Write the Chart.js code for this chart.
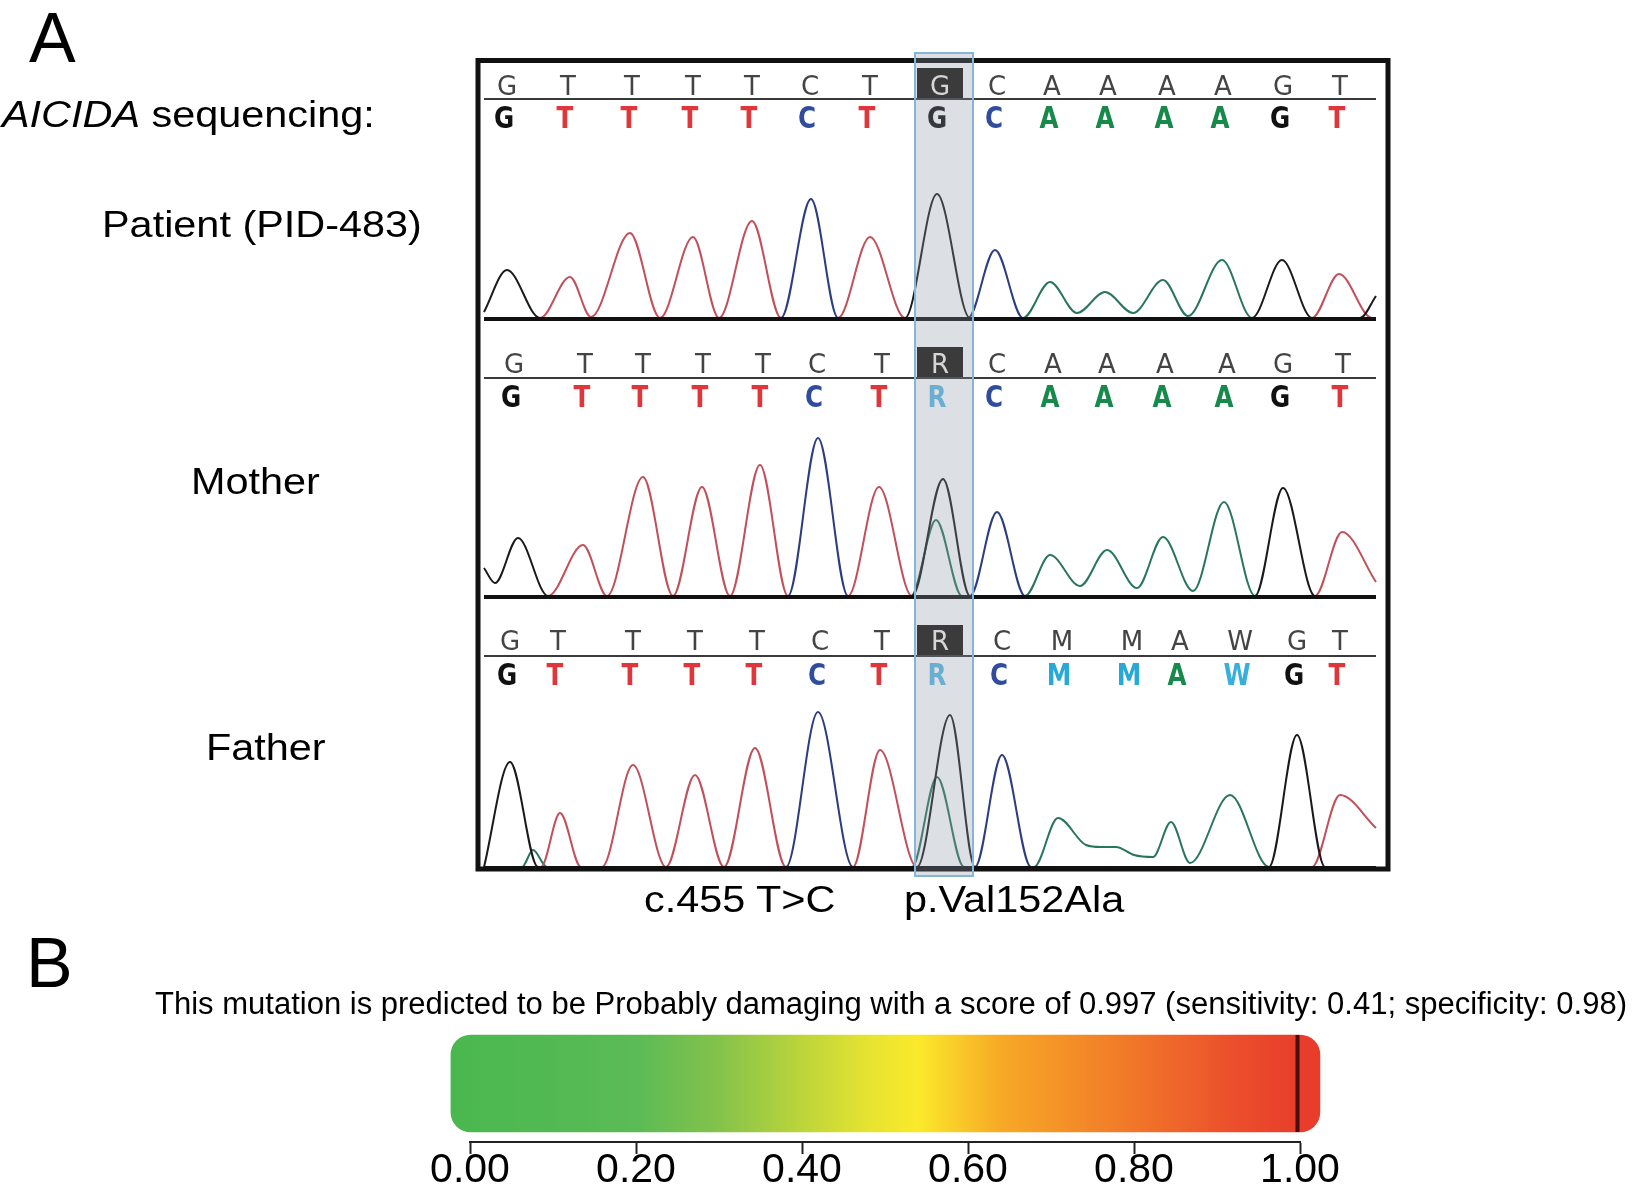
<!DOCTYPE html>
<html><head><meta charset="utf-8">
<script src="https://cdn.jsdelivr.net/npm/chart.js@4.4.1/dist/chart.umd.min.js"></script>
<style>
html,body{margin:0;padding:0;background:#fff;}
#page{position:relative;width:1632px;height:1195px;overflow:hidden;background:#fff;}
.lbl{position:absolute;white-space:nowrap;font-family:"Liberation Sans",Arial,Helvetica,sans-serif;line-height:1;color:#000;transform-origin:0 0;}
.sx{font-size:36px;transform:scaleX(1.15);}
canvas{position:absolute;left:0;}
</style></head>
<body><div id="page">
<canvas id="seq" width="1632" height="900" style="top:0px"></canvas>
<canvas id="pp" width="1632" height="195" style="top:1000px"></canvas>
<div class="lbl" style="left:29px;top:3px;font-size:70px">A</div>
<div class="lbl sx" style="left:2px;top:96.5px"><i>AICIDA</i> sequencing:</div>
<div class="lbl sx" style="left:102px;top:206.5px">Patient (PID-483)</div>
<div class="lbl sx" style="left:191px;top:463.5px">Mother</div>
<div class="lbl sx" style="left:206px;top:729.5px">Father</div>
<div class="lbl sx" style="left:644px;top:881.5px">c.455 T&gt;C</div>
<div class="lbl sx" style="left:904px;top:881.5px">p.Val152Ala</div>
<div class="lbl" style="left:26px;top:928px;font-size:70px">B</div>
<div class="lbl" id="ppText" style="left:155px;top:988px;font-size:31px">This mutation is predicted to be Probably damaging with a score of 0.997 (sensitivity: 0.41; specificity: 0.98)</div>
</div>
<script>
// ---------------- DATA (trace scan units on x, signal units on y) ----------------
const patientCalls = ['G','T','T','T','T','C','T','G','C','A','A','A','A','G','T'];
const patientCallPos = [23, 84, 148, 209, 268, 326, 386, 456, 513, 568, 624, 683, 739, 799, 856];
const motherCalls = ['G','T','T','T','T','C','T','R','C','A','A','A','A','G','T'];
const motherCallPos = [30, 101, 159, 219, 279, 333, 398, 456, 513, 569, 623, 681, 743, 799, 859];
const fatherCalls = ['G','T','T','T','T','C','T','R','C','M','M','A','W','G','T'];
const fatherCallPos = [26, 74, 149, 211, 273, 336, 398, 456, 518, 578, 648, 696, 756, 813, 856];

const patientG = [[0,6],[23,48],[56,0],[421,0],[453,124],[486,0],[768,0],[798,58],[828,0],[876,0],[892,22]];
const patientT = [[0,0],[56,0],[86,41],[107,1],[146,85],[176,0],[209,81],[235,0],[268,97],[297,0],[354,0],[386,81],[421,0],[828,0],[855,44],[888,0],[892,0]];
const patientC = [[0,0],[297,0],[327,119],[354,0],[484,0],[511,68],[539,0],[892,0]];
const patientA = [[0,0],[539,0],[566,36],[593,5],[621,26],[649,5],[679,38],[704,2],[738,58],[768,0],[892,0]];

const motherG = [[0,28],[11,13],[34,58],[64,0],[428,0],[459,117],[486,0],[771,0],[799,108],[831,0],[892,0]];
const motherT = [[0,0],[64,0],[99,51],[123,0],[159,119],[189,0],[218,109],[246,0],[276,131],[304,0],[364,0],[395,109],[428,0],[831,0],[858,64],[892,14]];
const motherC = [[0,0],[304,0],[334,158],[364,0],[486,0],[513,84],[541,0],[892,0]];
const motherA = [[0,0],[427,0],[452,76],[478,0],[541,0],[566,41],[596,10],[623,46],[653,8],[679,59],[709,5],[740,94],[771,0],[892,0]];

const fatherG = [[0,0],[26,105],[54,0],[433,0],[466,152],[491,0],[785,0],[813,132],[841,0],[892,0]];
const fatherT = [[0,0],[57,0],[76,54],[97,0],[118,0],[149,102],[182,0],[211,92],[240,0],[271,119],[302,0],[369,0],[396,117],[433,0],[828,0],[856,72],[892,39]];
const fatherC = [[0,0],[302,0],[334,155],[369,0],[491,0],[518,112],[547,0],[892,0]];
const fatherA = [[0,0],[38,0],[49,17],[63,0],[428,0],[453,90],[480,0],[550,0],[574,49],[602,22],[617,20],[632,20],[650,12],[669,10],[687,45],[706,4],[746,72],[785,0],[892,0]];

const mutationIndex = 7;
const mutationWindow = [431, 489];

const scoreTicks = [0, 0.2, 0.4, 0.6, 0.8, 1.0];
const barRange = [-0.023, 1.024];
const predictedScore = 0.997;

// ---------------- STYLE / LAYOUT ----------------
const traceColors = {G:'#1a1a1a', A:'#2a7560', T:'#c1505b', C:'#2c3d80'};
const callColors = {G:'#111111', T:'#e0353a', C:'#2f4c9e', A:'#16894b', R:'#5cb9e6', M:'#27a8d6', W:'#37b0e0'};
const area = {left:484, right:1380, top:62, bottom:867};
const H = area.bottom - area.top;
function yRange(basePx){ const min = -(area.bottom - basePx); return {min:min, max:min + H}; }

const tracks = [
  {axis:'yP', base:318, calls:patientCalls, pos:patientCallPos, traces:{G:patientG,T:patientT,C:patientC,A:patientA}, top:-223, sep:-219, bot:-190, box:[-250,-220]},
  {axis:'yM', base:596, calls:motherCalls, pos:motherCallPos, traces:{G:motherG,T:motherT,C:motherC,A:motherA}, top:-223, sep:-218, bot:-189, box:[-249,-219]},
  {axis:'yF', base:867, calls:fatherCalls, pos:fatherCallPos, traces:{G:fatherG,T:fatherT,C:fatherC,A:fatherA}, top:-217, sep:-211, bot:-182, box:[-242,-212]}
];

const datasets = [];
tracks.forEach(t => {
  ['G','C','T','A'].forEach(b => {
    datasets.push({
      label: t.axis + b,
      data: t.traces[b].map(p => ({x:p[0], y:p[1]})),
      yAxisID: t.axis,
      borderColor: traceColors[b],
      borderWidth: 2,
      pointRadius: 0,
      fill: false,
      cubicInterpolationMode: 'monotone',
      clip: false
    });
  });
});

const scalesA = { x: {type:'linear', min:0, max:896, display:false} };
tracks.forEach(t => { const r = yRange(t.base); scalesA[t.axis] = {type:'linear', min:r.min, max:r.max, display:false}; });

const seqPlugin = {
  id: 'seqDecor',
  beforeDatasetsDraw(chart){
    const {ctx, chartArea:ca, scales} = chart;
    const xs = scales.x;
    ctx.save();
    tracks.forEach(t => {
      const b = scales[t.axis].getPixelForValue(0);
      ctx.fillStyle = '#3a3a3a';
      ctx.fillRect(ca.left, b + t.sep - 1, ca.right - 4 - ca.left, 2);
      ctx.textAlign = 'center'; ctx.textBaseline = 'alphabetic';
      t.calls.forEach((c, i) => {
        const px = xs.getPixelForValue(t.pos[i]);
        if (i !== mutationIndex) {
          ctx.font = '26px "DejaVu Sans", sans-serif';
          ctx.fillStyle = '#444444';
          ctx.fillText(c, px, b + t.top);
        }
        ctx.save();
        ctx.translate(px - 3, b + t.bot);
        ctx.scale(0.82, 1);
        ctx.font = 'bold 30px "DejaVu Sans", sans-serif';
        ctx.fillStyle = callColors[c];
        ctx.fillText(c, 0, 0);
        ctx.restore();
      });
    });
    ctx.restore();
  },
  afterDatasetsDraw(chart){
    const {ctx, chartArea:ca, scales} = chart;
    const xs = scales.x;
    ctx.save();
    // frame and track baselines
    ctx.strokeStyle = '#111'; ctx.lineWidth = 5;
    ctx.strokeRect(ca.left - 6, ca.top - 1.5, (ca.right + 8) - (ca.left - 6), (ca.bottom + 2) - (ca.top - 1.5));
    tracks.forEach(t => {
      const b = scales[t.axis].getPixelForValue(0);
      ctx.fillStyle = '#111';
      ctx.fillRect(ca.left, b - 1, ca.right - 4 - ca.left, 4);
    });
    // mutation column
    const x0 = xs.getPixelForValue(mutationWindow[0]);
    const x1 = xs.getPixelForValue(mutationWindow[1]);
    ctx.fillStyle = 'rgba(138,148,162,0.30)';
    ctx.fillRect(x0, ca.top - 9, x1 - x0, ca.bottom - ca.top + 18);
    ctx.strokeStyle = '#86b5d6'; ctx.lineWidth = 2;
    ctx.strokeRect(x0, ca.top - 9, x1 - x0, ca.bottom - ca.top + 18);
    tracks.forEach(t => {
      const b = scales[t.axis].getPixelForValue(0);
      const bx0 = x0 + 2, bx1 = x1 - 10;
      ctx.fillStyle = '#3b3b3b';
      ctx.fillRect(bx0, b + t.box[0], bx1 - bx0, t.box[1] - t.box[0]);
      ctx.font = '26px "DejaVu Sans", sans-serif';
      ctx.textAlign = 'center'; ctx.textBaseline = 'alphabetic';
      ctx.fillStyle = '#d6d6d6';
      ctx.fillText(t.calls[mutationIndex], xs.getPixelForValue(t.pos[mutationIndex]), b + t.top);
    });
    ctx.restore();
  }
};

new Chart(document.getElementById('seq'), {
  type: 'line',
  data: { datasets: datasets },
  options: {
    responsive: false, animation: false,
    layout: { padding: { left: area.left, right: 1632 - area.right, top: area.top, bottom: 900 - area.bottom } },
    plugins: { legend: {display:false}, tooltip: {enabled:false} },
    scales: scalesA
  },
  plugins: [seqPlugin]
});

// ---------------- Panel B ----------------
const gradientStops = [[0,'#4bb84f'],[0.2,'#5bbb56'],[0.3,'#84c24b'],[0.4,'#bcd53b'],[0.48,'#e6e331'],[0.54,'#fbe92b'],[0.64,'#f7a926'],[0.8,'#f17629'],[0.92,'#eb4f2c'],[1,'#e83d2b']];
function barGradient(chart){
  const {ctx, chartArea, scales} = chart;
  if (!chartArea || !scales.x) return '#4bb84f';
  const g = ctx.createLinearGradient(scales.x.getPixelForValue(0), 0, scales.x.getPixelForValue(1), 0);
  gradientStops.forEach(s => g.addColorStop(s[0], s[1]));
  return g;
}
const markerPlugin = {
  id: 'scoreMarker',
  afterDatasetsDraw(chart){
    const el = chart.getDatasetMeta(0).data[0];
    const x = chart.scales.x.getPixelForValue(predictedScore);
    const ctx = chart.ctx;
    ctx.save();
    ctx.fillStyle = '#4a0c0c';
    ctx.fillRect(x - 2, el.y - el.height / 2, 4, el.height);
    ctx.restore();
  }
};
new Chart(document.getElementById('pp'), {
  type: 'bar',
  data: { labels: ['PolyPhen-2'], datasets: [{ data: [[barRange[0], barRange[1]]], backgroundColor: c => barGradient(c.chart), borderRadius: 20, borderSkipped: false, borderWidth: 0, barThickness: 97, clip: false }] },
  options: {
    indexAxis: 'y', responsive: false, animation: false,
    layout: { padding: { left: 470, right: 332, top: 25, bottom: 0 } },
    plugins: { legend: {display:false}, tooltip: {enabled:false} },
    scales: {
      x: {
        type: 'linear', min: scoreTicks[0], max: scoreTicks[scoreTicks.length - 1],
        afterBuildTicks: a => { a.ticks = scoreTicks.map(v => ({value: v})); },
        afterFit: s => { s.height = 53; },
        ticks: { autoSkip: false, maxRotation: 0, color: '#000', padding: -4, font: { family: '"Liberation Sans", Arial, sans-serif', size: 41, lineHeight: 1 }, callback: v => Number(v).toFixed(2) },
        grid: { drawOnChartArea: false, drawTicks: true, tickLength: 12, tickColor: '#222', tickWidth: 2 },
        border: { display: true, color: '#222', width: 2 }
      },
      y: { display: false }
    }
  },
  plugins: [markerPlugin]
});

function fitText(){
  const t = document.getElementById('ppText');
  t.style.transform = 'none';
  const w = t.getBoundingClientRect().width;
  if (w > 0) t.style.transform = 'scaleX(' + (1472 / w) + ')';
}
fitText();
if (document.fonts && document.fonts.ready) document.fonts.ready.then(fitText);
</script>
</body></html>
